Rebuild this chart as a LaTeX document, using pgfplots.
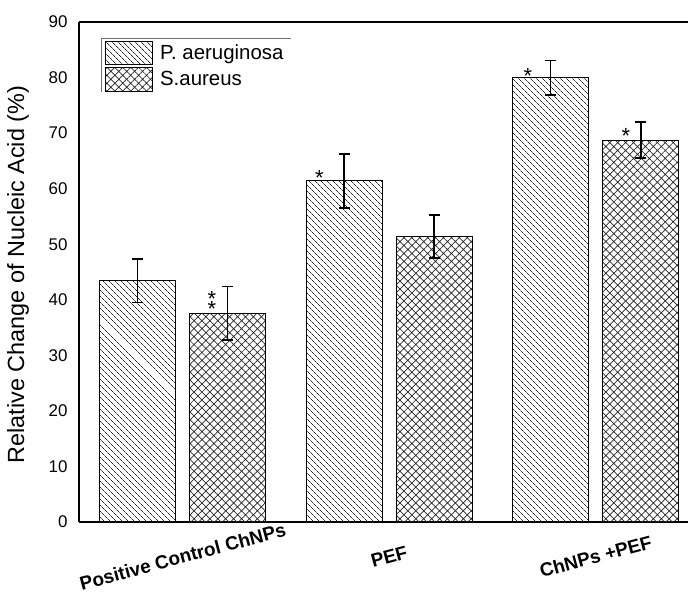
\documentclass[border=0pt]{standalone}
\usepackage{pgfplots}
\pgfplotsset{compat=1.18}
\usepackage{pgfplotstable}
\usetikzlibrary{patterns.meta}
\usepackage{fontspec}
\setmainfont{Liberation Sans}

\pgfplotstableread{
x y err
0 43.4 3.9
1 61.4 4.85
2 80.0 3.1
}\pa
\pgfplotstableread{
x y err
0 37.6 4.8
1 51.4 3.9
2 68.75 3.25
}\sa

\begin{document}
\begin{tikzpicture}
\begin{axis}[
  at={(0,0)}, anchor=south west,
  scale only axis, width=609bp, height=500bp,
  xmin=-0.502, xmax=2.447, ymin=0, ymax=90,
  axis x line=box, axis y line=left,
  axis line style={-, line width=1.5bp},
  ytick={0,10,...,90}, xtick={0,1,2},
  xticklabels={Positive Control ChNPs, PEF, ChNPs +PEF},
  major tick length=0pt,
  /pgf/number format/assume math mode=true,
  yticklabel style={font=\fontsize{17}{17}\selectfont, xshift=-8bp},
  xticklabel style={yshift=-34.5bp, font=\fontsize{19}{19}\selectfont\bfseries, rotate=15, anchor=center},
  ylabel={Relative Change of Nucleic Acid (\%)},
  ylabel style={font=\fontsize{23.5}{23.5}\selectfont, at={(axis description cs:-0.1,0.495)}, anchor=center},
  ybar, bar width=0.366,
  legend image code/.code={\draw[#1] (0bp,-11.5bp) rectangle (47bp,11.5bp);},
  legend cell align=left,
  legend style={at={(axis description cs:0.0427,0.9626)}, anchor=north west,
    draw=none, fill=none, inner sep=0pt, row sep=2.7bp,
    font=\fontsize{20.5}{20.5}\selectfont,
    nodes={inner sep=0pt},
    /tikz/every odd column/.append style={column sep=7bp}},
]
\addplot[draw=black, line width=0.9bp,
  pattern={Lines[angle=-45,distance=3.9bp,line width=0.7bp]}, pattern color=black!85,
  bar shift=-0.218,
  error bars/.cd, y dir=both, y explicit,
  error bar style={line width=1.6bp, black},
  error mark options={rotate=90, mark size=5.5bp, line width=1.6bp, black}]
  table[x=x, y=y, y error=err] {\pa};
\addplot[draw=black, line width=0.9bp,
  pattern={Hatch[angle=45,distance=5.6bp,line width=0.7bp]}, pattern color=black!85,
  bar shift=0.218,
  error bars/.cd, y dir=both, y explicit,
  error bar style={line width=1.6bp, black},
  error mark options={rotate=90, mark size=5.5bp, line width=1.6bp, black}]
  table[x=x, y=y, y error=err] {\sa};
\legend{P. aeruginosa, S.aureus}
\draw[black!55, line width=0.9bp] (axis description cs:0.0361,0.86) -- (axis description cs:0.0361,0.968) -- (axis description cs:0.348,0.968);
\begin{scope}[every node/.style={font=\fontsize{22}{22}\selectfont, inner sep=0pt, anchor=base, yshift=-12.5bp}]
\node at (axis cs:0.142,41.0) {*};
\node at (axis cs:0.142,39.2) {*};
\node at (axis cs:0.662,62.8) {*};
\node at (axis cs:1.672,81.2) {*};
\node at (axis cs:2.146,70.4) {*};
\end{scope}
\end{axis}
\pgfresetboundingbox
\path[use as bounding box] (-79bp,-72bp) rectangle (609bp,522bp);
\end{tikzpicture}
\end{document}
